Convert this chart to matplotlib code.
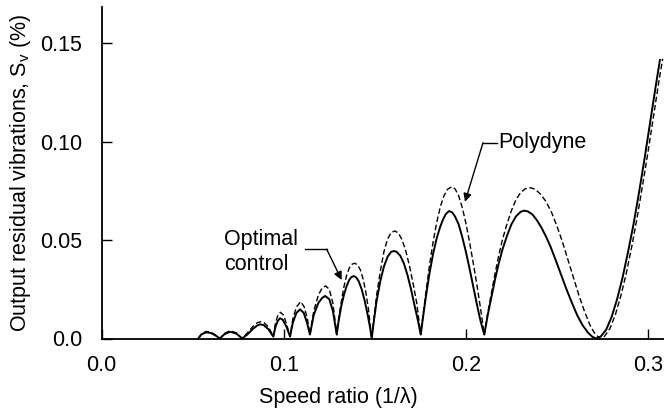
import matplotlib
matplotlib.use("Agg")
import matplotlib.pyplot as plt

plt.rcParams['font.family'] = ['Liberation Sans', 'DejaVu Sans']
plt.rcParams['mathtext.fontset'] = 'custom'
plt.rcParams['mathtext.rm'] = 'Liberation Sans'
plt.rcParams['mathtext.it'] = 'Liberation Sans:italic'

# Optimal control (solid)
opt_x = [0.0531, 0.0550, 0.0575, 0.0600, 0.0625, 0.0650, 0.0675, 0.0705, 0.0740, 0.0772,
         0.0800, 0.0830, 0.0855, 0.0870, 0.0890, 0.0915, 0.0943,
         0.0955, 0.0968, 0.0980, 0.0995, 0.1015, 0.1035,
         0.1050, 0.1070, 0.1090, 0.1110, 0.1128, 0.1144,
         0.1165, 0.1190, 0.1210, 0.1227, 0.1250, 0.1270, 0.1291,
         0.1300, 0.1315, 0.1330, 0.1345, 0.1360, 0.1372, 0.1385, 0.1398, 0.1412, 0.1428, 0.1445, 0.1462, 0.1475, 0.1483,
         0.1495, 0.1510, 0.1530, 0.1550, 0.1570, 0.1590, 0.1605, 0.1620, 0.1640, 0.1660, 0.1680, 0.1700, 0.1720, 0.1737, 0.1752,
         0.1765, 0.1780, 0.1800, 0.1820, 0.1840, 0.1860, 0.1875, 0.1890, 0.1907, 0.1925, 0.1940, 0.1960, 0.1980, 0.2000,
         0.2020, 0.2040, 0.2060, 0.2080, 0.2101,
         0.2120, 0.2140, 0.2160, 0.2180, 0.2200, 0.2225, 0.2250, 0.2275, 0.2300, 0.2320, 0.2340, 0.2365, 0.2390, 0.2415,
         0.2440, 0.2465, 0.2490, 0.2520, 0.2550, 0.2580, 0.2610, 0.2640, 0.2670, 0.2695, 0.2715,
         0.2740, 0.2770, 0.2800, 0.2830, 0.2860, 0.2890, 0.2920, 0.2950, 0.2980, 0.3010, 0.3040, 0.3065]
opt_y = [0.0, 0.0022, 0.0031, 0.0028, 0.0016, 0.0, 0.0022, 0.0034, 0.0025, 0.0,
         0.0020, 0.0048, 0.0066, 0.0072, 0.0068, 0.0048, 0.0010,
         0.0060, 0.0090, 0.0103, 0.0095, 0.0060, 0.0010,
         0.0080, 0.0130, 0.0148, 0.0130, 0.0080, 0.0020,
         0.0120, 0.0180, 0.0205, 0.0216, 0.0200, 0.0140, 0.0020,
         0.0080, 0.0160, 0.0220, 0.0265, 0.0298, 0.0312, 0.0317, 0.0310, 0.0290, 0.0250, 0.0190, 0.0115, 0.0050, 0.0,
         0.0090, 0.0190, 0.0290, 0.0365, 0.0415, 0.0440, 0.0444, 0.0440, 0.0420, 0.0380, 0.0320, 0.0245, 0.0160, 0.0090, 0.0020,
         0.0110, 0.0210, 0.0330, 0.0430, 0.0510, 0.0570, 0.0605, 0.0632, 0.0647, 0.0640, 0.0620, 0.0580, 0.0515, 0.0440,
         0.0355, 0.0265, 0.0175, 0.0090, 0.0020,
         0.0120, 0.0210, 0.0300, 0.0380, 0.0450, 0.0520, 0.0580, 0.0620, 0.0643, 0.0649, 0.0645, 0.0630, 0.0600, 0.0562,
         0.0517, 0.0465, 0.0405, 0.0330, 0.0255, 0.0185, 0.0120, 0.0068, 0.0030, 0.0008, 0.0,
         0.0010, 0.0045, 0.0110, 0.0200, 0.0310, 0.0440, 0.0580, 0.0740, 0.0910, 0.1090, 0.1270, 0.1414]

# Polydyne (dashed)
poly_x = [0.0531, 0.0550, 0.0575, 0.0600, 0.0625, 0.0650, 0.0675, 0.0705, 0.0740, 0.0772,
          0.0800, 0.0830, 0.0855, 0.0872, 0.0892, 0.0917, 0.0943,
          0.0955, 0.0968, 0.0982, 0.0998, 0.1017, 0.1035,
          0.1050, 0.1070, 0.1093, 0.1113, 0.1130, 0.1144,
          0.1165, 0.1190, 0.1210, 0.1230, 0.1250, 0.1270, 0.1291,
          0.1300, 0.1315, 0.1330, 0.1345, 0.1360, 0.1375, 0.1390, 0.1405, 0.1420, 0.1435, 0.1450, 0.1465, 0.1483,
          0.1495, 0.1510, 0.1530, 0.1550, 0.1570, 0.1590, 0.1610, 0.1630, 0.1650, 0.1670, 0.1690, 0.1710, 0.1730, 0.1752,
          0.1765, 0.1780, 0.1800, 0.1820, 0.1840, 0.1860, 0.1880, 0.1900, 0.1922, 0.1940, 0.1960, 0.1980, 0.2000,
          0.2020, 0.2040, 0.2060, 0.2080, 0.2101,
          0.2120, 0.2140, 0.2160, 0.2180, 0.2200, 0.2225, 0.2250, 0.2275, 0.2300, 0.2325, 0.2352, 0.2380, 0.2410, 0.2440,
          0.2470, 0.2500, 0.2530, 0.2560, 0.2590, 0.2620, 0.2650, 0.2680, 0.2705, 0.2735,
          0.2760, 0.2790, 0.2820, 0.2850, 0.2880, 0.2910, 0.2940, 0.2970, 0.3000, 0.3030, 0.3060, 0.3080]
poly_y = [0.0, 0.0026, 0.0036, 0.0032, 0.0018, 0.0, 0.0026, 0.0039, 0.0029, 0.0,
          0.0028, 0.0060, 0.0080, 0.0085, 0.0080, 0.0058, 0.0010,
          0.0080, 0.0118, 0.0133, 0.0120, 0.0070, 0.0010,
          0.0100, 0.0160, 0.0187, 0.0160, 0.0100, 0.0020,
          0.0140, 0.0220, 0.0255, 0.0267, 0.0250, 0.0180, 0.0020,
          0.0090, 0.0180, 0.0260, 0.0320, 0.0358, 0.0377, 0.0382, 0.0374, 0.0350, 0.0305, 0.0240, 0.0150, 0.0,
          0.0100, 0.0220, 0.0340, 0.0440, 0.0505, 0.0538, 0.0546, 0.0535, 0.0500, 0.0445, 0.0370, 0.0280, 0.0180, 0.0020,
          0.0120, 0.0230, 0.0370, 0.0490, 0.0590, 0.0670, 0.0725, 0.0758, 0.0770, 0.0760, 0.0725, 0.0665, 0.0585,
          0.0490, 0.0385, 0.0275, 0.0155, 0.0020,
          0.0130, 0.0230, 0.0330, 0.0420, 0.0500, 0.0580, 0.0650, 0.0705, 0.0740, 0.0760, 0.0766, 0.0758, 0.0732, 0.0695,
          0.0640, 0.0570, 0.0490, 0.0400, 0.0310, 0.0220, 0.0140, 0.0070, 0.0028, 0.0,
          0.0010, 0.0050, 0.0120, 0.0215, 0.0330, 0.0465, 0.0615, 0.0780, 0.0950, 0.1130, 0.1310, 0.1420]

x_ticks = [0.0, 0.1, 0.2, 0.3]
x_tick_labels = ["0.0", "0.1", "0.2", "0.3"]
y_ticks = [0.0, 0.05, 0.10, 0.15]
y_tick_labels = ["0.0", "0.05", "0.10", "0.15"]

FS = 15.5

fig = plt.figure(figsize=(6.64, 4.12), dpi=100)
ax = fig.add_axes([101.5 / 664, (412 - 338.5) / 412, 1 - 101.5 / 664, (338.5 - 7) / 412])

ax.plot(opt_x, opt_y, color='black', lw=1.4, solid_joinstyle='round', clip_on=False)
ax.plot(poly_x, poly_y, color='black', lw=1.0, dashes=(4, 2), clip_on=False)

ax.set_xlim(0.0, (664 - 101.5) / 1822)
ax.set_ylim(0.0, (338.5 - 7) / 1970)

ax.set_xticks(x_ticks)
ax.set_xticklabels(x_tick_labels)
ax.set_yticks(y_ticks)
ax.set_yticklabels(y_tick_labels)
ax.tick_params(direction='in', length=7, width=1.0, labelsize=FS, pad=14, color='black')
ax.tick_params(axis='x', pad=12)

for s in ['top', 'right']:
    ax.spines[s].set_visible(False)
for s in ['left', 'bottom']:
    ax.spines[s].set_linewidth(1.3)

ax.set_xlabel("Speed ratio (1/λ)", fontsize=FS)
ax.xaxis.set_label_coords((338 - 101.5) / (664 - 101.5), -(398 - 338.5) / (338.5 - 7), transform=ax.transAxes)
ax.xaxis.label.set_verticalalignment('center')
ax.set_ylabel("Output residual vibrations, S$_\\mathregular{v}$ (%)", fontsize=FS)
ax.yaxis.set_label_coords(-(101.5 - 20) / (664 - 101.5), 0.5, transform=ax.transAxes)
ax.yaxis.label.set_verticalalignment('center')

arrowprops = dict(arrowstyle='-|>', color='black', lw=1.0, mutation_scale=12, shrinkA=0, shrinkB=0)
# Polydyne annotation
ax.annotate("", xy=(0.1995, 0.0694), xytext=(0.2094, 0.0994), arrowprops=arrowprops)
ax.plot([0.2094, 0.2170], [0.0994, 0.0994], color='black', lw=1.0)
ax.text(0.2178, 0.0997, "Polydyne", fontsize=FS, ha='left', va='center')
# Optimal control annotation
ax.annotate("", xy=(0.1318, 0.0297), xytext=(0.1236, 0.0453), arrowprops=arrowprops)
ax.plot([0.1117, 0.1236], [0.0453, 0.0453], color='black', lw=1.0)
ax.text(0.0672, 0.0437, "Optimal\ncontrol", fontsize=FS, ha='left', va='center', linespacing=1.25)

fig.savefig("out.png", dpi=100)
